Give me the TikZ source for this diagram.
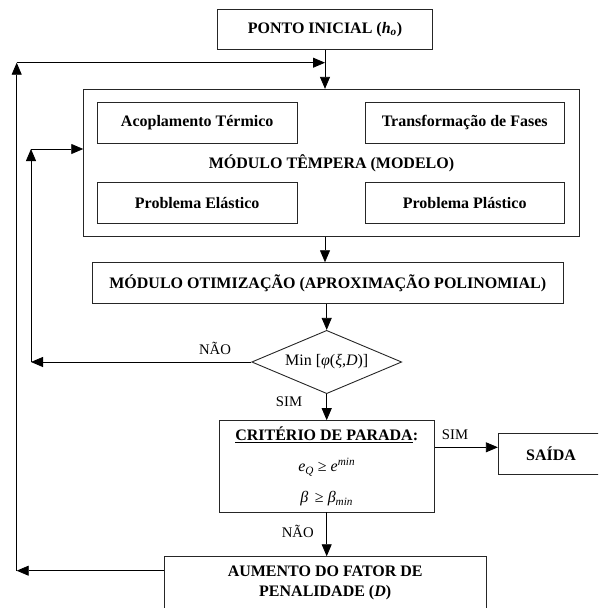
\documentclass[tikz,border=0pt]{standalone}
\usepackage{fontspec}
\setmainfont{Liberation Serif}
\usetikzlibrary{arrows.meta,shapes.geometric}
\tikzset{
  box/.style={draw=black!85, line width=0.9pt, rectangle, inner sep=0pt, align=center,
    font=\fontsize{16}{19.2}\selectfont\bfseries},
  lbl/.style={font=\fontsize{14.7}{17}\selectfont, inner sep=0pt},
  arr/.style={-{Triangle[length=12pt,width=10pt]}, line width=0.8pt, draw=black},
  ln/.style={line width=0.8pt, draw=black}
}
\begin{document}
\begin{tikzpicture}[x=1pt,y=-1pt]
\useasboundingbox (0,0) rectangle (598,608);
\clip (0,0) rectangle (598,608);
% boxes
\node[box, minimum width=215.4pt, minimum height=40pt] (ponto) at (325,29.3)
  {PONTO INICIAL (\textit{h}\textsubscript{\textit{o}})};
\node[box, minimum width=495.6pt, minimum height=147.4pt] (modulo) at (331.5,163)
  {MÓDULO TÊMPERA (MODELO)};
\node[box, minimum width=199.7pt, minimum height=40.3pt] (acop) at (197.2,122.8)
  {Acoplamento Térmico};
\node[box, minimum width=199.3pt, minimum height=40.3pt] (transf) at (464.7,122.8)
  {Transformação de Fases};
\node[box, minimum width=199.7pt, minimum height=40.6pt] (elast) at (197.2,203)
  {Problema Elástico};
\node[box, minimum width=199.3pt, minimum height=40.6pt] (plast) at (464.7,203)
  {Problema Plástico};
\node[box, minimum width=470.3pt, minimum height=41pt] (otim) at (327.8,283.2)
  {MÓDULO OTIMIZAÇÃO (APROXIMAÇÃO POLINOMIAL)};
\node[draw=black!85, line width=0.9pt, diamond, aspect=2.37, inner sep=0pt,
  minimum width=150pt, minimum height=63.3pt,
  font=\fontsize{16}{19.2}\selectfont] (dia) at (326.7,362)
  {Min [\textit{φ}(\textit{ξ},\textit{D})]};
\node[box, minimum width=214.7pt, minimum height=91.3pt,
  font=\fontsize{16}{19.2}\selectfont] (crit) at (326.7,466.3)
  {\textbf{\underline{CRITÉRIO DE PARADA}:}\\[12pt]
   \textit{e}\textsubscript{\textit{Q}} ≥ \textit{e}\textsuperscript{\textit{min}}\\[12pt]
   \textit{β}\, ≥ \textit{β}\textsubscript{\textit{min}}};
\node[box, minimum width=105.4pt, minimum height=41pt] (saida) at (551,453.8) {SAÍDA};
\node[box, minimum width=321.7pt, minimum height=52pt,
  font=\fontsize{16}{20}\selectfont\bfseries] (aum) at (325.2,582.7)
  {AUMENTO DO FATOR DE\\PENALIDADE (\textit{D})};
% helper coordinates
\coordinate (o1) at (16.7,570.7);
\coordinate (o2) at (16.7,62.7);
\coordinate (i1) at (31,362);
\coordinate (i2) at (31,149);
\coordinate (sy) at (0,447.3);
% main flow
\draw[arr] (ponto.south) -- (ponto.south |- modulo.north);
\draw[arr] (modulo.south -| ponto.south) -- (ponto.south |- otim.north);
\draw[arr] (otim.south -| dia.north) -- (dia.north);
\draw[arr] (dia.south) -- (crit.north);
\draw[arr] (crit.south) -- (crit.south |- aum.north);
\draw[arr] (sy -| crit.east) -- (sy -| saida.west);
% inner loop
\draw[arr] (dia.west) -- (i1);
\draw[arr] (i1) -- (i2);
\draw[arr] (i2) -- (i2 -| modulo.west);
% outer loop
\draw[arr] (o1 -| aum.west) -- (o1);
\draw[arr] (o1) -- (o2);
\draw[arr] (o2) -- (o2 -| ponto.south);
% labels
\node[lbl] (nao1) at (215,348) {NÃO};
\node[lbl] (sim1) at (289,401.7) {SIM};
\node[lbl] (sim2) at (455,435) {SIM};
\node[lbl] (nao2) at (297.7,531.7) {NÃO};
\end{tikzpicture}
\end{document}
